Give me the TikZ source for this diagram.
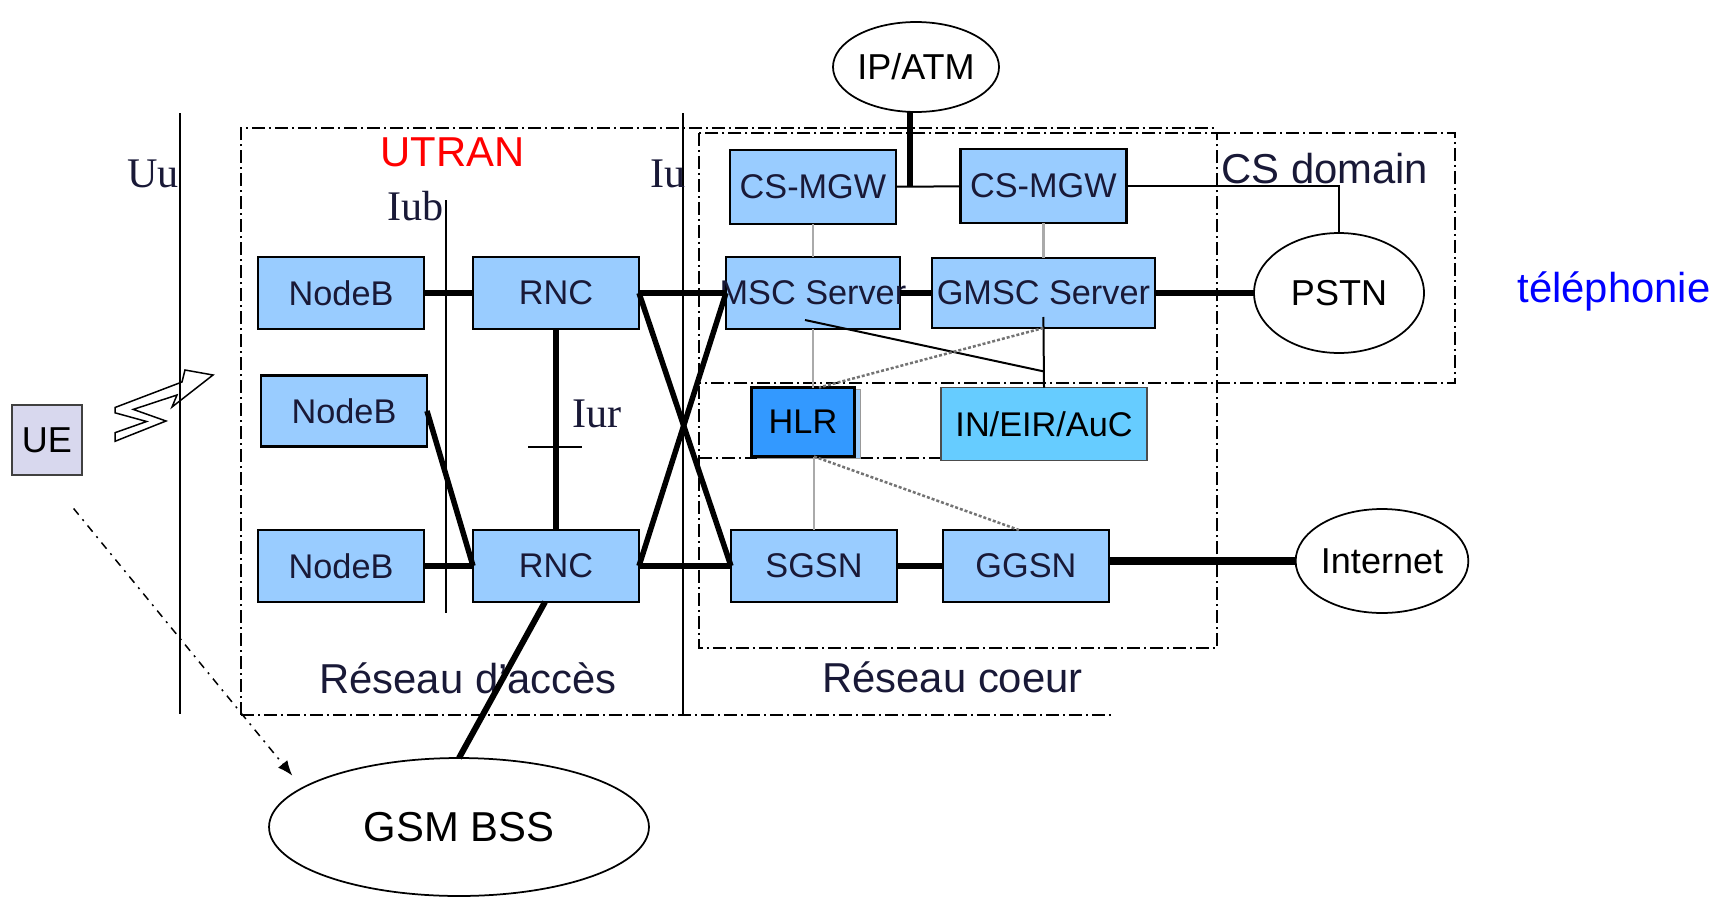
\documentclass[tikz,border=0pt]{standalone}
\usepackage{fontspec}
\setmainfont{Liberation Serif}
\setsansfont{Liberation Sans}
\usepackage{xcolor}
\usetikzlibrary{arrows.meta, positioning, shapes.geometric, shadows, calc}

\definecolor{nodeblue}{RGB}{153,204,255}
\definecolor{hlrblue}{RGB}{51,153,255}
\definecolor{dbblue}{RGB}{102,204,255}
\definecolor{uegrey}{RGB}{216,216,238}
\definecolor{inkblue}{RGB}{25,25,55}
\definecolor{wiregrey}{RGB}{170,170,170}

\newcommand{\netfont}{\sffamily\fontsize{19.5}{22}\selectfont}
\newcommand{\cloudfont}{\sffamily\fontsize{20.5}{23}\selectfont}
\newcommand{\zonefont}{\sffamily\fontsize{23.8}{27}\selectfont}
\newcommand{\ifacefont}{\rmfamily\fontsize{24}{27}\selectfont}

\begin{document}
\begin{tikzpicture}[
    x=0.02cm, y=-0.02cm,
    netbox/.style={
        rectangle,
        draw=black,
        line width=0.05cm,
        fill=nodeblue,
        minimum width=3.32cm,
        minimum height=1.44cm,
        inner sep=0pt,
        outer sep=0pt,
        font=\netfont,
        text=inkblue
    },
    netcloud/.style={
        ellipse,
        draw=black,
        line width=0.035cm,
        fill=white,
        inner sep=0pt,
        outer sep=0pt,
        font=\cloudfont
    },
    zonetext/.style={anchor=base west, inner sep=0pt, font=\zonefont, text=inkblue},
    ifacetext/.style={anchor=base west, inner sep=0pt, font=\ifacefont, text=inkblue},
    region/.style={line width=0.04cm, dash pattern=on 0.26cm off 0.08cm on 0.04cm off 0.08cm},
    iface/.style={line width=0.04cm},
    heavy/.style={line width=0.11cm},
    wire/.style={line width=0.04cm},
    greywire/.style={line width=0.05cm, draw=wiregrey},
    greydash/.style={line width=0.05cm, draw=black!55, dash pattern=on 0.06cm off 0.04cm},
    uplink/.style={line width=0.03cm, dash pattern=on 0.16cm off 0.12cm on 0.04cm off 0.12cm, -{Latex[length=0.3cm, width=0.24cm]}}
]

\useasboundingbox (0,0) rectangle (1723,906);

\draw[region] (241,715) -- (241,128) -- (1217,128);
\draw[region] (241,715) -- (1114,715);
\draw[region] (699,133) rectangle (1217,648);
\draw[region] (1217,133) -- (1455,133) -- (1455,383) -- (699,383);
\draw[region] (699,458) -- (943,458);

\draw[line width=0.03cm, fill=white, line join=miter] (115,432.7) -- (146.6,421.5) -- (115,412.8) -- (115,407.5) -- (182,382) -- (185,370) -- (213,375) -- (172,407) -- (177,395) -- (133.3,409.4) -- (166,421) -- (115,441.3) -- cycle;

\draw[iface] (180,113) -- (180,714);
\draw[iface] (446,200) -- (446,613);
\draw[iface] (683,113) -- (683,715);
\draw[iface] (528,447) -- (582,447);

\node[netbox] (rnc1) at (556,293) {RNC};
\node[netbox, left=0.98cm of rnc1] (nodeb1) {NodeB};
\node[netbox, below=4.02cm of rnc1] (rnc2) {RNC};
\node[netbox, left=0.98cm of rnc2] (nodeb3) {NodeB};
\node[netbox, minimum height=1.42cm] (nodeb2) at (344,411) {NodeB};

\node[netbox, minimum width=3.48cm, right=1.74cm of rnc1] (msc) {\makebox[0pt]{MSC Server}};
\node[netbox, minimum width=4.46cm, minimum height=1.40cm, right=0.64cm of msc] (gmsc) {GMSC Server};
\node[netbox, minimum height=1.48cm, above=0.66cm of msc] (mgw1) {CS-MGW};
\node[netbox, minimum height=1.48cm, above=0.70cm of gmsc] (mgw2) {CS-MGW};

\node[netbox, right=1.84cm of rnc2] (sgsn) {SGSN};
\node[netbox, right=0.92cm of sgsn] (ggsn) {GGSN};

\node[netbox, minimum width=2.06cm, minimum height=1.38cm, fill=hlrblue, text=black,
    copy shadow={shadow xshift=0.12cm, shadow yshift=-0.04cm, fill=nodeblue, draw=black!40, line width=0.02cm}] (hlr) at (803,422) {HLR};
\node[netbox, minimum width=4.12cm, minimum height=1.46cm, fill=dbblue, draw=black!70, line width=0.03cm, text=black] (ineir) at (1044,424) {IN/EIR/AuC};

\node[netcloud, minimum width=3.08cm, minimum height=1.80cm] (ipatm) at (916,67) {IP/ATM};
\node[netcloud, minimum width=3.40cm, minimum height=2.40cm] (pstn) at (1339,293) {PSTN};
\node[netcloud, minimum width=3.12cm, minimum height=2.08cm] (internet) at (1382,561) {Internet};
\node[netcloud, minimum width=7.60cm, minimum height=2.76cm, font=\zonefont] (gsmbss) at (459,827) {GSM BSS};

\node[rectangle, draw=black!75, line width=0.04cm, fill=uegrey, minimum size=1.4cm, inner sep=0pt, font=\cloudfont] (ue) at (47,440) {UE};

\node[zonetext, text=red] (utran) at (380,166) {UTRAN};
\node[zonetext] (csdomain) at (1221,183) {CS domain};
\node[zonetext, text=blue] (telephonie) at (1517,302) {téléphonie};
\node[zonetext] (access) at (319,693) {Réseau d'accès};
\node[zonetext] (core) at (822,692) {Réseau coeur};

\node[ifacetext] (uu) at (127,187) {Uu};
\node[ifacetext] (iub) at (387,220) {Iub};
\node[ifacetext] (iu) at (650,187) {Iu};
\node[ifacetext] (iur) at (572,427) {Iur};

\coordinate (mgwtap) at ($(mgw1.east)!0.22!(mgw2.west)$);
\coordinate (injoin) at ($(gmsc.south)!0.73!(ineir.north)$);

\draw[heavy] (nodeb1) -- (rnc1);
\draw[heavy] (nodeb2.east) -- (rnc2.west);
\draw[heavy] (nodeb3) -- (rnc2);
\draw[heavy] (rnc1) -- (rnc2);
\draw[heavy] (rnc1) -- (msc);
\draw[heavy] (rnc1.east) -- (sgsn.west);
\draw[heavy] (rnc2.east) -- (msc.west);
\draw[heavy] (rnc2) -- (sgsn);
\draw[heavy] (msc) -- (gmsc);
\draw[heavy] (gmsc) -- (pstn);
\draw[heavy] (sgsn) -- (ggsn);
\draw[heavy, line width=0.16cm] (ggsn.east |- internet.west) -- (internet.west);
\draw[heavy, line width=0.12cm] ([xshift=-0.22cm]rnc2.south) -- (gsmbss.north);
\draw[heavy] (ipatm.south -| mgwtap) -- (mgwtap);

\draw[wire] (mgw1) -- (mgw2);
\draw[wire] (mgw2.east) -| (pstn.north);
\draw[greywire] (mgw1) -- (msc);
\draw[greywire] (mgw2) -- (gmsc);
\draw[greywire] (msc.south) -- (msc.south |- hlr.north);
\draw[greywire] (hlr.south -| sgsn.north) -- (sgsn.north);
\draw[wire] ([yshift=0.22cm]gmsc.south) -- (ineir.north);
\draw[wire] ([xshift=-0.16cm, yshift=0.18cm]msc.south) -- (injoin);
\draw[greydash] (gmsc.south) -- ([xshift=0.32cm]hlr.north);
\draw[greydash] ([xshift=0.22cm]hlr.south) -- ([xshift=-0.14cm]ggsn.north);

\draw[uplink, shorten <=0.84cm, shorten >=0.32cm] (ue.south) -- (gsmbss.166);

\end{tikzpicture}
\end{document}
